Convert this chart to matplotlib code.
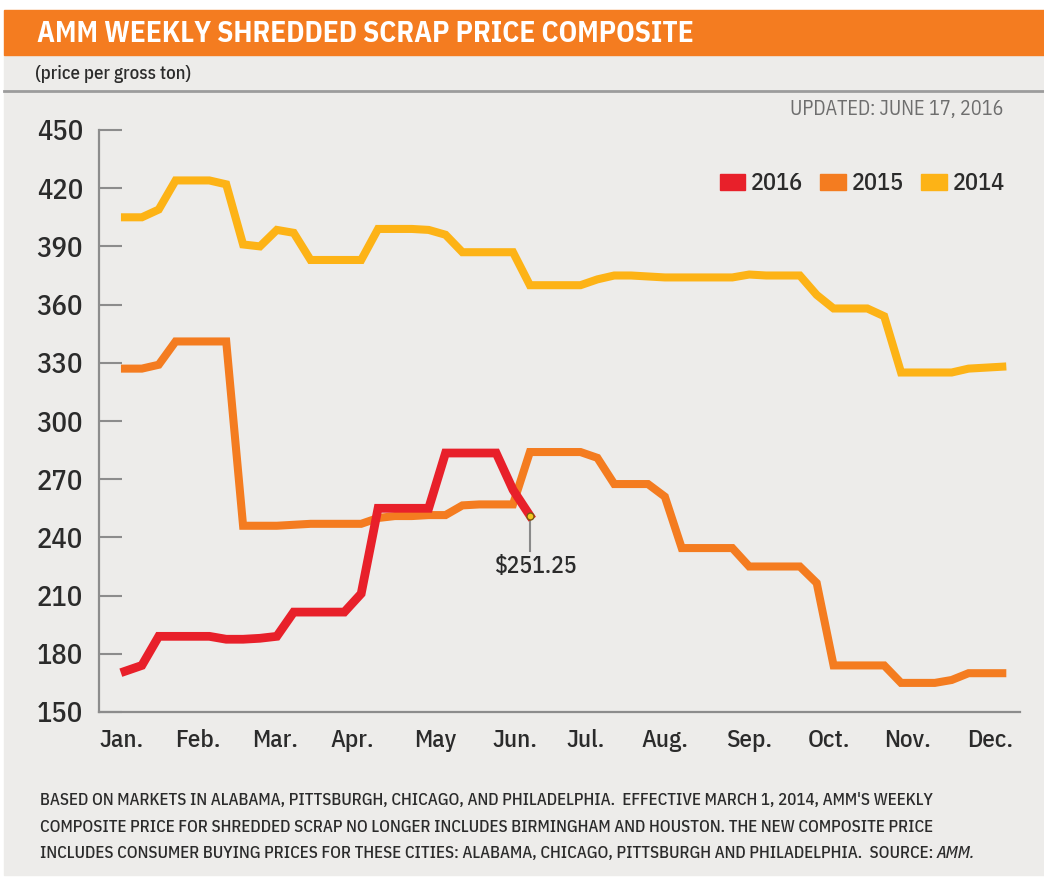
import matplotlib.pyplot as plt
from matplotlib.patches import Rectangle, Patch
from matplotlib.lines import Line2D

W, H = 1044, 877
plt.rcParams['font.family'] = ['IBM Plex Sans Condensed', 'DejaVu Sans']

# weekly composite prices ($ per gross ton), week 0 = first week of January
price_2014 = [405, 405, 409, 424, 424, 424, 422, 391, 390, 398.5, 397, 383, 383, 383, 383,
              399, 399, 399, 398.5, 396, 387, 387, 387, 387,
              370, 370, 370, 370, 373, 375, 375, 374.5, 374, 374, 374, 374, 374, 375.5,
              375, 375, 375, 365, 358, 358, 358, 354, 325, 325, 325, 325, 327, 327.5, 328]
price_2015 = [327, 327, 329, 341, 341, 341, 341, 246, 246, 246, 246.5, 247, 247, 247, 247,
              250, 251, 251, 251.5, 251.5, 256.5, 257, 257, 257,
              284, 284, 284, 284, 281, 267.5, 267.5, 267.5, 261, 234.5, 234.5, 234.5, 234.5,
              225, 225, 225, 225, 216.5, 174, 174, 174, 174, 165, 165, 165, 166.5, 170, 170, 170]
price_2016 = [171, 174, 189, 189, 189, 189, 187.5, 187.5, 188, 189, 201.5, 201.5, 201.5, 201.5,
              211, 255, 255, 255, 255, 283.5, 283.5, 283.5, 283.5, 264.5, 251.25]

months = ["Jan.", "Feb.", "Mar.", "Apr.", "May", "Jun.", "Jul.", "Aug.", "Sep.", "Oct.", "Nov.", "Dec."]
month_weeks = [-0.2, 4.3, 8.9, 13.5, 18.4, 23.1, 27.3, 32.0, 37.0, 41.7, 46.4, 51.3]
y_ticks = [150, 180, 210, 240, 270, 300, 330, 360, 390, 420, 450]

colors = {'2016': '#E8202A', '2015': '#F47C20', '2014': '#FDB316'}
bg = '#EDECEA'
text_dark = '#2b2b2b'


def fx(x):
    return x / W


def fy(y):
    return 1 - y / H


fig = plt.figure(figsize=(W / 100, H / 100), dpi=100, facecolor='white')

# panel backgrounds
fig.patches.append(Rectangle((fx(4), fy(875)), fx(W) - fx(4), fy(55) - fy(875),
                             transform=fig.transFigure, color=bg, zorder=0))
fig.patches.append(Rectangle((fx(4), fy(55)), fx(W) - fx(4), fy(10) - fy(55),
                             transform=fig.transFigure, color='#F47C20', zorder=0))
fig.lines.append(Line2D([fx(4), 1], [fy(91), fy(91)], transform=fig.transFigure,
                        color='#9c9c9c', lw=2, zorder=1))

fig.text(fx(37), fy(34), "AMM WEEKLY SHREDDED SCRAP PRICE COMPOSITE", color='white',
         fontsize=21, fontweight='bold', va='center', ha='left')
fig.text(fx(35), fy(74), "(price per gross ton)", color=text_dark, fontsize=13.5,
         fontweight='medium', va='center', ha='left')
fig.text(fx(1003), fy(110), "UPDATED: JUNE 17, 2016", color='#6e6e6e', fontsize=14.5,
         va='center', ha='right')

ax = fig.add_axes([fx(99), fy(712), fx(1020) - fx(99), fy(130) - fy(712)])
ax.set_zorder(3)
ax.patch.set_alpha(0)

ax.plot(range(len(price_2014)), price_2014, color=colors['2014'], lw=5.8, solid_joinstyle='miter', zorder=2)
ax.plot(range(len(price_2015)), price_2015, color=colors['2015'], lw=5.8, solid_joinstyle='miter', zorder=3)
ax.plot(range(len(price_2016)), price_2016, color=colors['2016'], lw=6.3, solid_joinstyle='miter', zorder=4)

# latest value callout
last_week = len(price_2016) - 1
last_val = price_2016[-1]
ax.plot([last_week, last_week], [last_val, last_val - 18.5], color='#8a8a8a', lw=1.5, zorder=1)
ax.plot(last_week, last_val, 'o', ms=5, mfc='#F2C81E', mec='#7a5a10', mew=1, zorder=5)
ax.text(last_week + 0.35, last_val - 26, f"${last_val:.2f}", color=text_dark, fontsize=17,
        fontweight='medium', ha='center', va='center')

ax.set_xlim(-1.54, 53.05)
ax.set_ylim(150, 450)
ax.set_yticks(y_ticks)
ax.set_xticks(month_weeks)
ax.set_xticklabels(months)

for side in ['top', 'right']:
    ax.spines[side].set_visible(False)
for side in ['left', 'bottom']:
    ax.spines[side].set_color('#8c8c8c')
    ax.spines[side].set_linewidth(1.6)

ax.tick_params(axis='y', direction='in', length=16.5, width=1.5, color='#8c8c8c',
               labelsize=20.5, labelcolor=text_dark, pad=11.5)
ax.tick_params(axis='x', length=0, labelsize=18, labelcolor=text_dark, pad=12)
for lbl in ax.get_xticklabels() + ax.get_yticklabels():
    lbl.set_fontweight('medium')

handles = [Patch(color=colors[k], label=k) for k in ['2016', '2015', '2014']]
ax.legend(handles=handles, loc='upper right', bbox_to_anchor=(fx(1017), fy(160)),
          bbox_transform=fig.transFigure, ncol=3, frameon=False,
          prop={'size': 17.5, 'weight': 'medium'},
          handlelength=1.05, handleheight=0.65, handletextpad=0.25, columnspacing=0.7,
          borderpad=0, labelcolor=text_dark)

notes = [
    "BASED ON MARKETS IN ALABAMA, PITTSBURGH, CHICAGO, AND PHILADELPHIA.  EFFECTIVE MARCH 1, 2014, AMM'S WEEKLY",
    "COMPOSITE PRICE FOR SHREDDED SCRAP NO LONGER INCLUDES BIRMINGHAM AND HOUSTON. THE NEW COMPOSITE PRICE",
    "INCLUDES CONSUMER BUYING PRICES FOR THESE CITIES: ALABAMA, CHICAGO, PITTSBURGH AND PHILADELPHIA.  SOURCE: ",
]
for i, line in enumerate(notes):
    t = fig.text(fx(40), fy(800 + i * 26.5), line, color=text_dark, fontsize=12.2,
                 fontweight='medium', ha='left', va='center')
# italic source name right after the last line
fig.canvas.draw()
bb = t.get_window_extent()
fig.text(bb.x1 / W, fy(800 + 2 * 26.5), "AMM.", color=text_dark, fontsize=12.2,
         fontweight='medium', style='italic', ha='left', va='center')

fig.savefig('out.png', dpi=100, facecolor='white')
